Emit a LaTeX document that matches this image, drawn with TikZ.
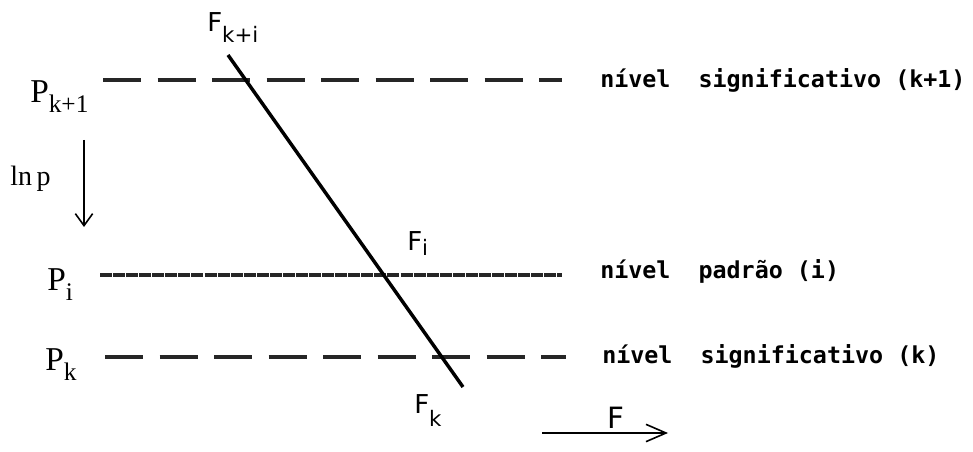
\documentclass[tikz,border=0pt]{standalone}
\usepackage{fontspec}
\newfontfamily\monof{DejaVu Sans Mono Bold}
\newfontfamily\sansf{DejaVu Sans}
\newfontfamily\serf{Liberation Serif}
\usetikzlibrary{arrows.meta}
\newcommand{\Pl}[1]{{\serf\fontsize{25}{25}\selectfont P}\raisebox{-7.5pt}{\serf\fontsize{19}{19}\selectfont #1}}
\newcommand{\Fl}[2]{{\sansf\fontsize{19.5}{20}\selectfont F}\raisebox{-#2}{\sansf\fontsize{16}{16}\selectfont #1}}
\begin{document}
\begin{tikzpicture}[x=0.75pt,y=-0.75pt,
  lbl/.style={inner sep=0pt,anchor=base west},
  lvtext/.style={lbl,font=\monof\fontsize{17.5}{18}\selectfont},
  sigline/.style={line width=3.6pt,black!85,dash pattern=on 28.5pt off 12.4pt},
  stdline/.style={line width=3.6pt,black!85,dash pattern=on 9pt off 0.8pt},
  crossline/.style={line width=2.6pt,black},
  arr/.style={line width=1.2pt}]
\useasboundingbox (0,0) rectangle (973,452);
% level lines
\coordinate (a1) at (103,80);  \coordinate (a2) at (562,80);
\coordinate (b1) at (100,275); \coordinate (b2) at (562,275);
\coordinate (c1) at (105,357); \coordinate (c2) at (566,357);
\draw[sigline] (a1) -- (a2);
\draw[stdline] (b1) -- (b2);
\draw[sigline] (c1) -- (c2);
% diagonal
\coordinate (d1) at (228,55); \coordinate (d2) at (463,387);
\draw[crossline] (d1) -- (d2);
% labels left
\node[lbl] (pk1) at (30,103) {\Pl{k+1}};
\node[lbl] (pi) at (47,290) {\Pl{i}};
\node[lbl] (pk) at (45,370) {\Pl{k}};
\node[lbl,font=\serf\fontsize{21}{21}\selectfont] (lnp) at (10,186) {ln\,p};
% vertical arrow
\coordinate (v1) at (84,140); \coordinate (v2) at (84,227);
\draw[arr,-{Straight Barb[length=9pt,width=13pt,line width=1.2pt]}] (v1) -- (v2);
% F labels
\node[lbl] (fki) at (207,32) {\Fl{k+i}{8pt}};
\node[lbl] (fi) at (407,250) {\Fl{i}{4pt}};
\node[lbl] (fk) at (414,413) {\Fl{k}{10pt}};
% level texts
\node[lvtext] (t1) at (600,88) {nível\ \ significativo (k+1)};
\node[lvtext] (t2) at (600,278) {nível\ \ padrão (i)};
\node[lvtext] (t3) at (602,363) {nível\ \ significativo (k)};
% F arrow
\coordinate (h1) at (542,433); \coordinate (h2) at (668,433);
\draw[arr,-{Straight Barb[length=15pt,width=13pt,line width=1.2pt]}] (h1) -- (h2);
\node[lbl,font=\sansf\fontsize{22}{22}\selectfont] (fF) at (607,428) {F};
\end{tikzpicture}
\end{document}
